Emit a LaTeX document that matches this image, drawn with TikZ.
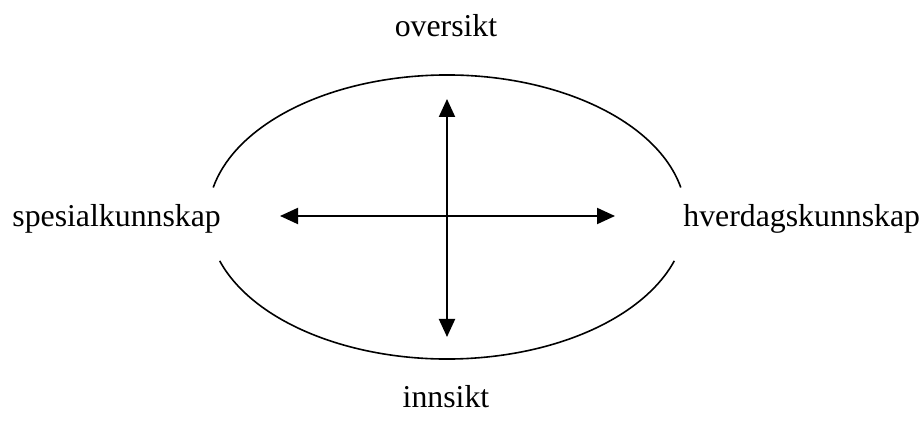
\documentclass[tikz,border=0pt]{standalone}
\usepackage{fontspec}
\setmainfont{Liberation Serif}
\usetikzlibrary{arrows.meta}

\definecolor{cLine}{gray}{0.0}
\definecolor{cText}{gray}{0.0}

\begin{document}
\begin{tikzpicture}[x=0.5pt, y=0.5pt,
    lbl/.style={font=\fontsize{15.9}{19}\selectfont, text=cText, inner sep=0pt},
    axis/.style={cLine, line width=1pt, {Triangle[length=9pt,width=8pt]}-{Triangle[length=9pt,width=8pt]}},
    rim/.style={cLine, line width=0.8pt}]

\useasboundingbox (0,0) rectangle (922,423);

% ── Centre and arrow ends ──
\coordinate (mid) at (447,206);
\coordinate (west) at (280,207);
\coordinate (east) at (615,207);
\coordinate (north) at (447,324);
\coordinate (south) at (447,86);

% ── Ellipse, open at both sides ──
\draw[rim] (mid) ++(12:239 and 142) arc[start angle=12, end angle=168, x radius=239, y radius=142];
\draw[rim] (mid) ++(198:239 and 142) arc[start angle=198, end angle=342, x radius=239, y radius=142];

% ── Arrows ──
\draw[axis] (west) -- (east);
\draw[axis] (south) -- (north);

% ── Labels ──
\node[lbl, anchor=base] (over) at (446,386) {oversikt};
\node[lbl, anchor=base] (inn) at (446,15) {innsikt};
\node[lbl, anchor=base west] (spes) at (12,196) {spesialkunnskap};
\node[lbl, anchor=base west] (hver) at (683,196) {hverdagskunnskap};

\end{tikzpicture}
\end{document}
